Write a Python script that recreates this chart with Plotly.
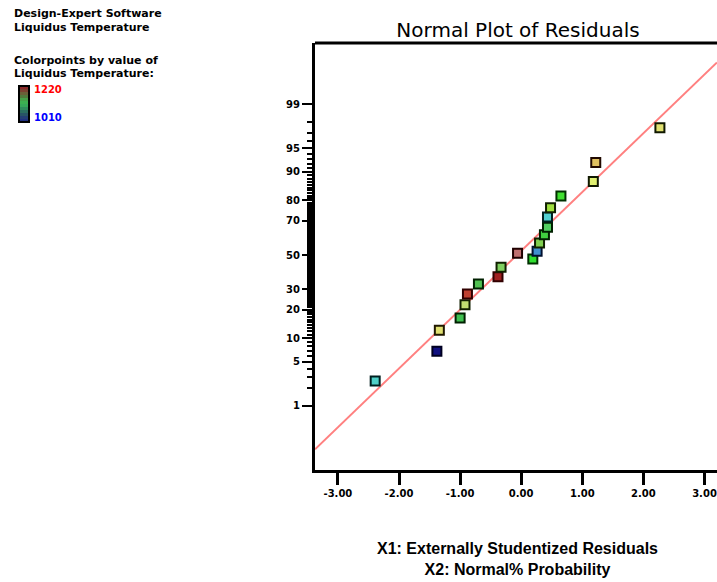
import plotly.graph_objects as go
from statistics import NormalDist

# ---------------- data ----------------
residuals = [-2.39, -1.38, -1.34, -1.00, -0.92, -0.88, -0.70, -0.38, -0.33, 0.19,
             -0.06, 0.26, 0.30, 0.38, 0.43, 0.43, 0.48, 0.65, 1.18, 1.22, 2.27]
probabilities = [2.6, 6.9, 12.3, 16.6, 22.2, 27.4, 32.8, 36.9, 42.5, 47.5,
                 51.1, 52.3, 57.3, 62.3, 66.5, 72.1, 76.7, 81.8, 87.1, 92.3, 97.5]
point_colors = ["#50D0C8", "#101080", "#E0E070", "#40C050", "#C0E070", "#C04030",
                "#50C050", "#A02020", "#80D060", "#30E030", "#C07070", "#4090D0",
                "#80D050", "#40D040", "#50D060", "#50D0D0", "#A0E040", "#40E030",
                "#E0F070", "#E0C060", "#E0E070"]
outline_colors = ["#002020", "#000020", "#201800", "#002000", "#102000", "#300000",
                  "#002000", "#300000", "#102000", "#003000", "#200000", "#001030",
                  "#102000", "#002000", "#002000", "#002020", "#102000", "#003000",
                  "#101800", "#200800", "#101800"]
ytick_percent = [1, 5, 10, 20, 30, 50, 70, 80, 90, 95, 99]
xtick_vals = [-3, -2, -1, 0, 1, 2, 3]
ref_slope = 0.906
ref_intercept = 0.064
legend_high_label = "1220"
legend_low_label = "1010"

nd = NormalDist()
z = lambda p: nd.inv_cdf(p / 100.0)

minor_percent = [p for p in range(2, 99) if p not in ytick_percent]

# ---------------- geometry ----------------
W, H = 717, 582
L, R, T, B = 315, 0, 43, 112
pw, ph = W - L - R, H - T - B
x_lo = -3.375
x_hi = x_lo + pw / 61.1
y_lo, y_hi = -3.313, 3.267

def px(xp):  # pixel x -> paper
    return (xp - L) / pw

def py(yp):  # pixel y -> paper
    return (H - B - yp) / ph

fig = go.Figure()

# reference line
lx = [x_lo, x_hi]
fig.add_trace(go.Scatter(x=lx, y=[ref_slope * v + ref_intercept for v in lx],
                         mode="lines", line=dict(color="#FF8080", width=2),
                         hoverinfo="skip", showlegend=False, cliponaxis=True))

# points
fig.add_trace(go.Scatter(x=residuals, y=[z(p) for p in probabilities], mode="markers",
                         marker=dict(symbol="square", size=9, color=point_colors,
                                     line=dict(color=outline_colors, width=2)),
                         showlegend=False))

font_l = "Liberation Sans"
font_d = "DejaVu Sans"

fig.update_layout(
    width=W, height=H,
    margin=dict(l=L, r=R, t=T, b=B),
    plot_bgcolor="white", paper_bgcolor="white",
    title=dict(text="Normal Plot of Residuals", x=px(518), xref="paper",
               xanchor="center", y=1 - 30 / H, yref="container", yanchor="middle",
               font=dict(family=font_d, size=20, color="black")),
    xaxis=dict(range=[x_lo, x_hi], tickmode="array", tickvals=xtick_vals,
               ticktext=["%.2f" % v for v in xtick_vals],
               showgrid=False, zeroline=False, showline=True, linecolor="black",
               linewidth=3, ticks="outside", ticklen=12, tickwidth=3, tickcolor="black",
               tickfont=dict(family=font_d, size=10, color="black", weight="bold"),
               automargin=False),
    yaxis=dict(range=[y_lo, y_hi], tickmode="array",
               tickvals=[z(p) for p in ytick_percent],
               ticktext=[str(p) for p in ytick_percent],
               showgrid=False, zeroline=False, showline=True, linecolor="black",
               linewidth=3, ticks="outside", ticklen=10, tickwidth=2, tickcolor="black",
               tickfont=dict(family=font_d, size=10, color="black", weight="bold"),
               minor=dict(tickvals=[z(p) for p in minor_percent], ticks="outside",
                          ticklen=5, tickwidth=2, tickcolor="black", showgrid=False),
               automargin=False),
)

# top border
fig.add_shape(type="line", xref="paper", yref="paper", x0=0, x1=1, y0=1, y1=1,
              line=dict(color="black", width=3))

# axis title (two lines)
fig.add_annotation(text="X1: Externally Studentized Residuals<br>X2: Normal% Probability",
                   xref="paper", yref="paper", x=px(517), y=py(559),
                   xanchor="center", yanchor="middle", showarrow=False,
                   font=dict(family=font_l, size=16, color="black", weight="bold"))

# top-left texts
for txt, yy in [("Design-Expert Software", 14), ("Liquidus Temperature", 28),
                ("Colorpoints by value of", 60), ("Liquidus Temperature:", 74)]:
    fig.add_annotation(text=txt, xref="paper", yref="paper", x=px(12), y=py(yy),
                       xanchor="left", yanchor="middle", showarrow=False,
                       font=dict(family=font_d, size=11, color="black", weight="bold"))

# colour bar
grad = ["#8B2A2A", "#7A4030", "#6A6038", "#507A3C", "#45A048", "#3CB050",
        "#35A858", "#2F8C5C", "#2A6E60", "#285466", "#243E76", "#203080"]
x0p, x1p = 19, 29
top, bot = 86, 122
n = len(grad)
for i, c in enumerate(grad):
    ya = top + (bot - top) * i / n
    yb = top + (bot - top) * (i + 1) / n
    fig.add_shape(type="rect", xref="paper", yref="paper",
                  x0=px(x0p), x1=px(x1p), y0=py(yb), y1=py(ya),
                  line=dict(width=0), fillcolor=c)
fig.add_shape(type="rect", xref="paper", yref="paper",
              x0=px(x0p), x1=px(x1p), y0=py(bot), y1=py(top),
              line=dict(color="black", width=2), fillcolor="rgba(0,0,0,0)")
fig.add_annotation(text=legend_high_label, xref="paper", yref="paper", x=px(32), y=py(89),
                   xanchor="left", yanchor="middle", showarrow=False,
                   font=dict(family=font_d, size=10, color="red", weight="bold"))
fig.add_annotation(text=legend_low_label, xref="paper", yref="paper", x=px(32), y=py(118),
                   xanchor="left", yanchor="middle", showarrow=False,
                   font=dict(family=font_d, size=10, color="blue", weight="bold"))

fig.write_html("out.html", config={"displayModeBar": False},
               post_script="document.body.style.margin='0';"
                           "document.body.style.overflow='hidden';")
